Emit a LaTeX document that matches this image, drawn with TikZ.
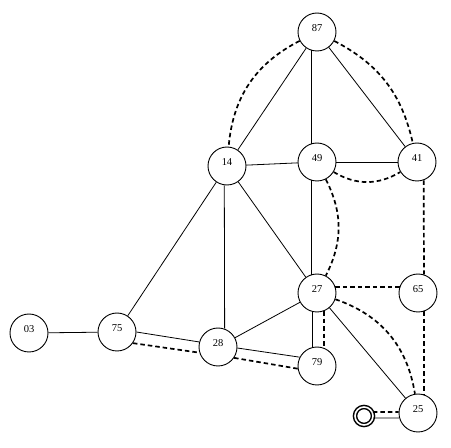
\documentclass[tikz,border=0pt]{standalone}
\usepackage{fontspec}
\setmainfont{Liberation Serif}
\begin{document}
\begin{tikzpicture}[x=1pt,y=1pt,
  vtx/.style={circle,draw,line width=0.9pt,minimum size=38pt,inner sep=0pt,fill=white},
  lbl/.style={font=\fontsize{10.5}{12}\selectfont,yshift=3.5pt},
  sol/.style={line width=0.8pt},
  dsh/.style={line width=1.7pt,dash pattern=on 4.5pt off 3pt},
  ring/.style={circle,draw,double,double distance=1.6pt,line width=1.5pt,minimum size=18pt,inner sep=0pt}]
\useasboundingbox (0,0) rectangle (451,448);
\node[vtx,label={[lbl]center:87}] (n87) at (317,416) {};
\node[vtx,label={[lbl]center:14}] (n14) at (227,282) {};
\node[vtx,label={[lbl]center:49}] (n49) at (317,286) {};
\node[vtx,label={[lbl]center:41}] (n41) at (417,286) {};
\node[vtx,label={[lbl]center:27}] (n27) at (317,155) {};
\node[vtx,label={[lbl]center:65}] (n65) at (418,155) {};
\node[vtx,label={[lbl]center:03}] (n03) at (29,115) {};
\node[vtx,label={[lbl]center:75}] (n75) at (117,116) {};
\node[vtx,label={[lbl]center:28}] (n28) at (218,101) {};
\node[vtx,label={[lbl]center:79}] (n79) at (317,82) {};
\node[vtx,label={[lbl]center:25}] (n25) at (418,35) {};
\node[ring] (sc) at (364,32) {};
% solid edges
\draw[sol] (n87) -- (n14);
\draw[sol] (n87.252) -- (n49.108);
\draw[sol] (n87) -- (n41);
\draw[sol] (n14) -- (n49);
\draw[sol] (n49) -- (n41);
\draw[sol] (n14) -- (n27);
\draw[sol] (n14.262) -- (n28.70);
\draw[sol] (n14) -- (n75);
\draw[sol] (n49.252) -- (n27.108);
\draw[sol] (n27) -- (n28);
\draw[sol] (n27) -- (n25);
\draw[sol] (n03) -- (n75);
\draw[sol] (n75.0) -- (n28.165);
\draw[sol] (n28.-3) -- (n79.153);
\draw[sol] (n27.255) -- (n79.105);
\draw[sol] (sc.-12) -- (n25.195);
% dashed edges
\draw[dsh] (n87) to[bend right=29] (n14);
\draw[dsh] (n87) to[bend left=25] (n41);
\draw[dsh] (n49) to[bend right=31] (n41);
\draw[dsh] (n49) to[bend left=27] (n27);
\draw[dsh] (n27) to[bend left=31] (n25);
\draw[dsh] (n27.18) -- (n65.162);
\draw[dsh] (n41.290) -- (n65.72);
\draw[dsh] (n65.288) -- (n25.72);
\draw[dsh] (n75.-35) -- (n28.197);
\draw[dsh] (n28.-34) -- (n79.188);
\draw[dsh] (n27.292) -- (n79.68);
\draw[dsh] (sc.24) -- (n25.177);
\end{tikzpicture}
\end{document}
